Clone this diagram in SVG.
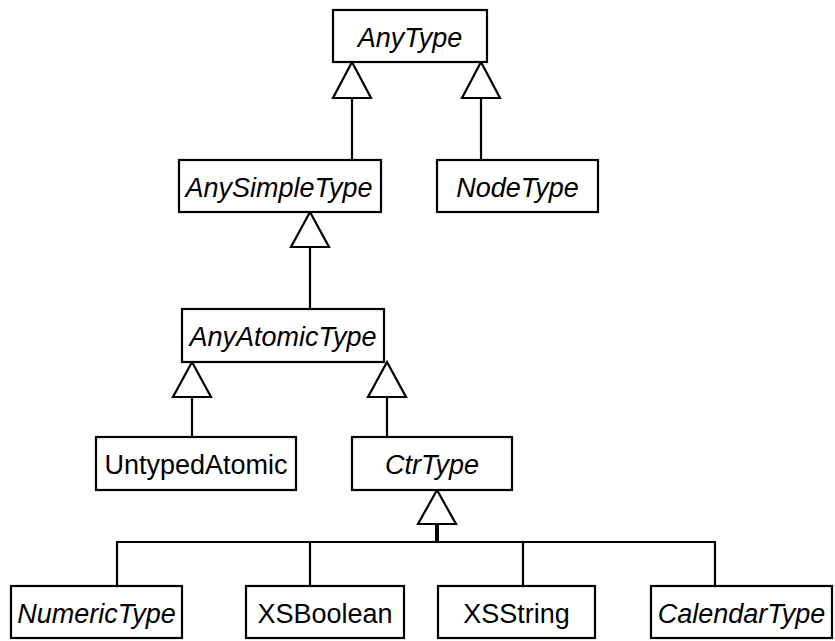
<svg xmlns="http://www.w3.org/2000/svg" width="835" height="641" viewBox="0 0 835 641">
  <style>
    .box { fill: #ffffff; stroke: #000000; stroke-width: 2.2; }
    .lbl { font-family: "Liberation Sans", Arial, Helvetica, sans-serif; font-size: 27px; text-anchor: middle; fill: #000000; }
    .abs { font-style: italic; }
    .edge { fill: none; stroke: #000000; stroke-width: 2.2; }
    .head { fill: #ffffff; stroke: #000000; stroke-width: 2.2; stroke-linejoin: miter; }
  </style>
  <rect width="835" height="641" fill="#ffffff"/>

  <!-- generalisation connectors -->
  <g id="connectors">
    <!-- AnySimpleType -> AnyType -->
    <line class="edge" x1="352" y1="98" x2="352" y2="160"/>
    <polygon class="head" points="352,62 333,98 371,98"/>
    <!-- NodeType -> AnyType -->
    <line class="edge" x1="481" y1="98" x2="481" y2="160"/>
    <polygon class="head" points="481,62 462,98 500,98"/>
    <!-- AnyAtomicType -> AnySimpleType -->
    <line class="edge" x1="310" y1="247" x2="310" y2="309"/>
    <polygon class="head" points="310,212 291,247 329,247"/>
    <!-- UntypedAtomic -> AnyAtomicType -->
    <line class="edge" x1="192" y1="397" x2="192" y2="437"/>
    <polygon class="head" points="192,362 173,397 211,397"/>
    <!-- CtrType -> AnyAtomicType -->
    <line class="edge" x1="387" y1="397" x2="387" y2="437"/>
    <polygon class="head" points="387,362 368,397 406,397"/>
    <!-- shared tree into CtrType -->
    <line x1="437" y1="524" x2="437" y2="542" stroke="#000000" stroke-width="4"/>
    <polygon class="head" points="437,490 418,524 456,524"/>
    <line class="edge" x1="116" y1="542" x2="716" y2="542"/>
    <line class="edge" x1="117" y1="542" x2="117" y2="586"/>
    <line class="edge" x1="310" y1="542" x2="310" y2="586"/>
    <line class="edge" x1="523" y1="542" x2="523" y2="586"/>
    <line class="edge" x1="715" y1="542" x2="715" y2="586"/>
  </g>

  <g id="AnyType">
    <rect class="box" x="333" y="10" width="154" height="52"/>
    <text class="lbl abs" x="410" y="46.5">AnyType</text>
  </g>
  <g id="AnySimpleType">
    <rect class="box" x="179" y="160" width="202" height="52"/>
    <text class="lbl abs" x="279" y="196.5">AnySimpleType</text>
  </g>
  <g id="NodeType">
    <rect class="box" x="437" y="160" width="161" height="52"/>
    <text class="lbl abs" x="517.5" y="196.5">NodeType</text>
  </g>
  <g id="AnyAtomicType">
    <rect class="box" x="182" y="309" width="202" height="53"/>
    <text class="lbl abs" x="283" y="345.5">AnyAtomicType</text>
  </g>
  <g id="UntypedAtomic">
    <rect class="box" x="96" y="437" width="200" height="53"/>
    <text class="lbl" x="196" y="473.5">UntypedAtomic</text>
  </g>
  <g id="CtrType">
    <rect class="box" x="352" y="437" width="160" height="53"/>
    <text class="lbl abs" x="432" y="473.5">CtrType</text>
  </g>
  <g id="NumericType">
    <rect class="box" x="11" y="586" width="171" height="52"/>
    <text class="lbl abs" x="96.5" y="622.5">NumericType</text>
  </g>
  <g id="XSBoolean">
    <rect class="box" x="246" y="586" width="158" height="52"/>
    <text class="lbl" x="325" y="622.5">XSBoolean</text>
  </g>
  <g id="XSString">
    <rect class="box" x="438" y="586" width="157" height="52"/>
    <text class="lbl" x="516.5" y="622.5">XSString</text>
  </g>
  <g id="CalendarType">
    <rect class="box" x="651" y="586" width="181" height="52"/>
    <text class="lbl abs" x="741.5" y="622.5">CalendarType</text>
  </g>
</svg>
